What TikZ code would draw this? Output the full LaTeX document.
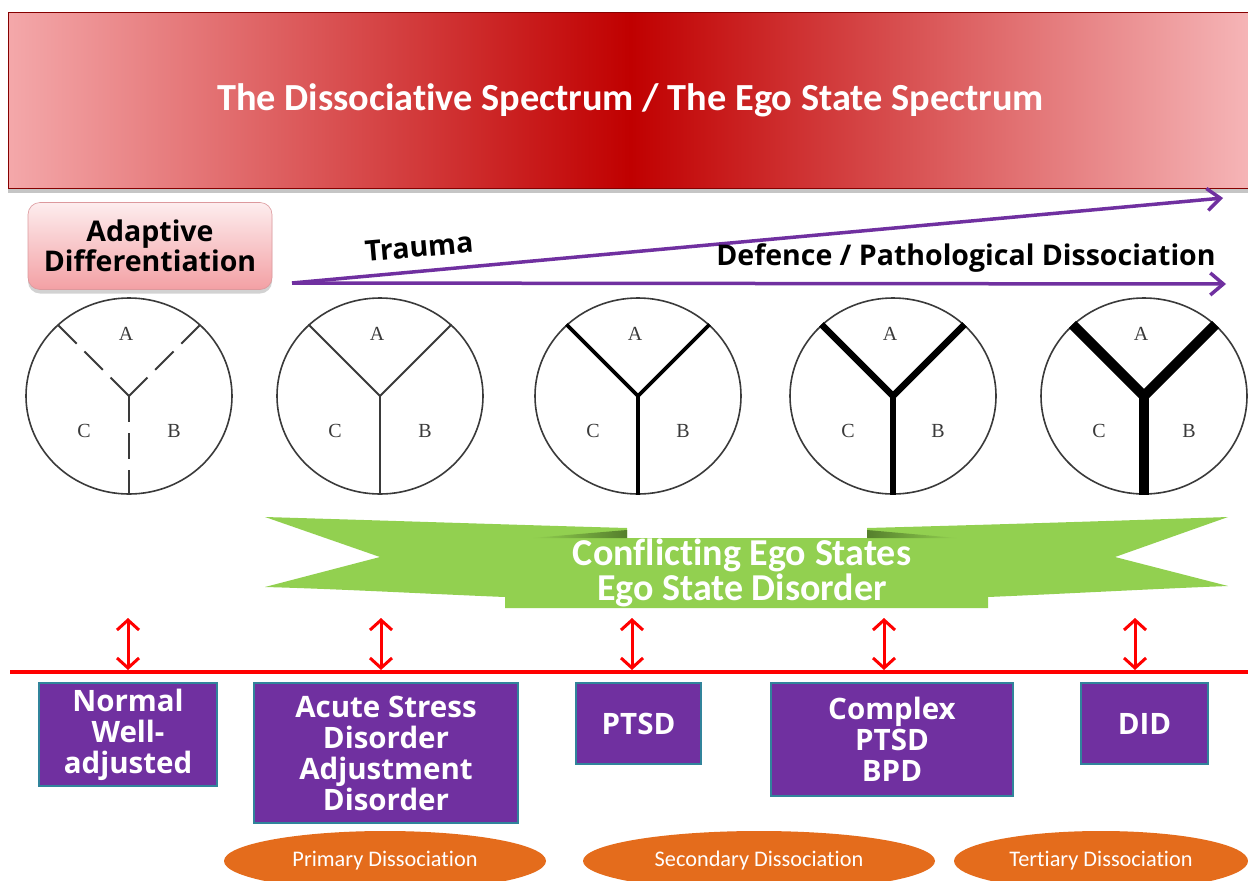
\documentclass[tikz,border=0pt]{standalone}
\usepackage{fontspec}
\setmainfont{Open Sans}
\newfontfamily\calfont[Ligatures=NoCommon]{Carlito}
\newfontfamily\serfont{Liberation Serif}
\usetikzlibrary{arrows.meta,shadows,shapes.geometric,calc}
\definecolor{hdrred}{HTML}{C00000}
\definecolor{hdrpink}{HTML}{F4A8AA}
\definecolor{hdrpinkr}{HTML}{F6B6B8}
\definecolor{purp}{HTML}{7030A0}
\definecolor{grn}{HTML}{92D050}
\definecolor{dgrn}{HTML}{557F2C}
\definecolor{orng}{HTML}{E46C1C}
\definecolor{boxedge}{HTML}{31849B}
\definecolor{arrred}{HTML}{FF0000}
\definecolor{pinktop}{HTML}{FDEDEE}
\definecolor{pinkbot}{HTML}{F3A0A4}
\definecolor{circgray}{HTML}{3A3A3A}
\tikzset{
  parrow/.style={draw=purp, line width=3.5pt, -{Straight Barb[length=13pt,width=22pt]}},
  rarrow/.style={draw=arrred, line width=3pt, {Straight Barb[length=10pt,width=22pt]}-{Straight Barb[length=10pt,width=22pt]}},
  egocirc/.style={ellipse, draw=circgray, line width=1.6pt, minimum width=206pt, minimum height=196pt, inner sep=0pt},
  circlabel/.style={font=\serfont\fontsize{20}{20}\selectfont, text=circgray},
  pbox/.style={fill=purp, draw=boxedge, line width=1.2pt, text=white, align=center, inner sep=0pt,
     font=\bfseries\fontsize{29.5}{31}\selectfont},
  oell/.style={ellipse, fill=orng, text=white, inner sep=0pt, minimum height=60pt,
     font=\calfont\fontsize{22.3}{22}\selectfont},
  darktext/.style={text=black, font=\bfseries\fontsize{28.5}{30}\selectfont}
}
\begin{document}
\begin{tikzpicture}[x=1pt,y=-1pt]
\useasboundingbox (0,0) rectangle (1248,881);
\fill[white] (0,0) rectangle (1248,881);

% header
\node (title) [minimum width=1245pt, minimum height=176pt, inner sep=0pt,
  left color=hdrpink, right color=hdrpinkr, middle color=hdrred,
  draw=hdrred!70!black, line width=1pt,
  drop shadow={shadow xshift=0pt, shadow yshift=-5pt, opacity=.45},
  text=white, font=\calfont\bfseries\fontsize{38.3}{40}\selectfont]
  at (630.5,100) {The Dissociative Spectrum / The Ego State Spectrum};

% adaptive differentiation
\node (adapt) [minimum width=244pt, minimum height=87pt, rounded corners=12pt,
  top color=pinktop, bottom color=pinkbot, draw=pinkbot!80!gray, line width=0.6pt,
  drop shadow={shadow xshift=0pt, shadow yshift=-4pt, opacity=.35},
  align=center, darktext] at (150,246) {Adaptive\\Differentiation};

% purple arrows
\coordinate (tr0) at (292,283);
\coordinate (trA) at (1223,198);
\coordinate (trB) at (1226,284);
\draw[parrow] (tr0) -- (trA);
\draw[parrow] (tr0) -- (trB);
\node (trauma) [darktext, rotate=5] at (419,247) {Trauma};
\node (defence) [darktext] at (966,258) {Defence / Pathological Dissociation};

% circles
\node (c1) [egocirc] at (129,396) {};
\node (c2) [egocirc] at (380,396) {};
\node (c3) [egocirc] at (638,396) {};
\node (c4) [egocirc] at (893,396) {};
\node (c5) [egocirc] at (1144,396) {};

\begin{scope}[draw=circgray, line width=2pt, dash pattern=on 26pt off 11pt]
  \draw (c1.center) -- (c1.135);
  \draw (c1.center) -- (c1.45);
  \draw (c1.center) -- (c1.south);
\end{scope}
\draw[circgray, line width=2pt, line join=miter] (c2.135) -- (c2.center) -- (c2.45);
\draw[circgray, line width=2pt] (c2.center) -- (c2.south);
\draw[black, line width=3.6pt, line join=miter] (c3.135) -- (c3.center) -- (c3.45);
\draw[black, line width=3.6pt] (c3.center) -- (c3.south);
\draw[black, line width=6.5pt, line join=miter] (c4.135) -- (c4.center) -- (c4.45);
\draw[black, line width=6.5pt] (c4.center) -- (c4.south);
\draw[black, line width=10pt, line join=miter] (c5.135) -- (c5.center) -- (c5.45);
\draw[black, line width=10pt] (c5.center) -- (c5.south);

\foreach \c in {c1,c2,c3,c4,c5}{
  \node (\c A) [circlabel] at ($(\c.center)+(-3,-62)$) {A};
  \node (\c C) [circlabel] at ($(\c.center)+(-45,35)$) {C};
  \node (\c B) [circlabel] at ($(\c.center)+(45,35)$) {B};
}

% green banner
\fill[grn] (265,517) .. controls (400,521) and (520,525) .. (627,528) -- (627,538) -- (867,538) -- (867,528)
  .. controls (980,525) and (1110,521) .. (1228,517) -- (1115,557) -- (1228,586)
  .. controls (1150,589) and (1060,594) .. (988,597) -- (988,608) -- (505,608) -- (505,597)
  .. controls (430,594) and (340,589) .. (265,587) -- (380,557) -- cycle;
\shade[left color=grn, right color=dgrn] (532,538) -- (627,530) -- (627,538) -- cycle;
\shade[left color=dgrn, right color=grn] (867,530) -- (957,538) -- (867,538) -- cycle;
\node (conf) [align=center, text=white, font=\calfont\bfseries\fontsize{38}{35}\selectfont]
  at (742,573) {Conflicting Ego States\\Ego State Disorder};

% red arrows and line
\coordinate (rl0) at (10,672);
\coordinate (rl1) at (1248,672);
\draw[arrred, line width=4pt] (rl0) -- (rl1);
\foreach \x/\n in {128/1,381/2,632/3,884/4,1135/5}{
  \coordinate (au\n) at (\x,618);
  \coordinate (ad\n) at (\x,670);
  \draw[rarrow] (au\n) -- (ad\n);
}

% purple boxes
\node (normal) [pbox, minimum width=178pt, minimum height=103pt] at (128,734.5) {Normal\\Well-\\adjusted};
\node (acute) [pbox, minimum width=264pt, minimum height=140pt] at (386,753) {Acute Stress\\Disorder\\Adjustment\\Disorder};
\node (ptsd) [pbox, minimum width=125pt, minimum height=81pt] at (638.5,723.5) {PTSD};
\node (complex) [pbox, minimum width=242pt, minimum height=113pt] at (892,739.5) {Complex\\PTSD\\BPD};
\node (did) [pbox, minimum width=127pt, minimum height=81pt] at (1144.5,723.5) {DID};

% orange ellipses
\node (prim) [oell, minimum width=322pt] at (385,861) {Primary Dissociation};
\node (sec) [oell, minimum width=352pt] at (759,861) {Secondary Dissociation};
\node (ter) [oell, minimum width=294pt] at (1101,861) {Tertiary Dissociation};
\end{tikzpicture}
\end{document}
